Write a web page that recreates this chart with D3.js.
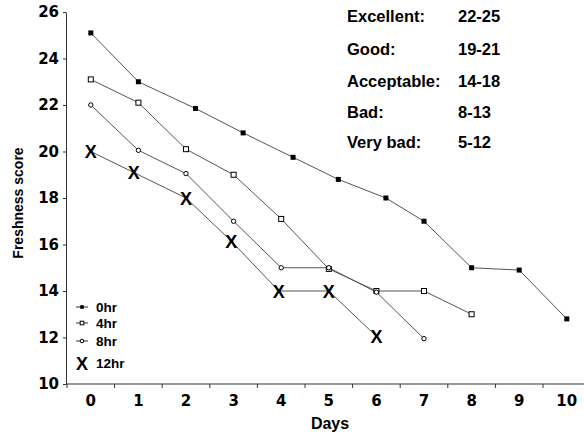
<!DOCTYPE html>
<html>
<head>
<meta charset="utf-8">
<script src="https://cdn.jsdelivr.net/npm/d3@7"></script>
<style>
  body { margin: 0; background: #fff; }
  svg { display: block; }
  text { font-family: "Liberation Sans", Arial, sans-serif; font-weight: bold; fill: #000; }
</style>
</head>
<body>
<svg id="chart"></svg>
<script>
const WIDTH = 584;
const HEIGHT = 437;

// storage time series (days, freshness score)
const seriesNames = ["0hr", "4hr", "8hr", "12hr"];
const days0 = [0, 1, 2.2, 3.2, 4.25, 5.2, 6.2, 7, 8, 9, 10];
const score0 = [25.1, 23.0, 21.85, 20.8, 19.75, 18.8, 18.0, 17.0, 15.0, 14.9, 12.8];
const days4 = [0, 1, 2, 3, 4, 5, 6, 7, 8];
const score4 = [23.1, 22.1, 20.1, 19.0, 17.1, 14.95, 14.0, 14.0, 13.0];
const days8 = [0, 1, 2, 3, 4, 5, 6, 7];
const score8 = [22.0, 20.05, 19.05, 17.0, 15.0, 15.0, 13.95, 11.95];
const days12 = [0, 0.9, 2, 2.95, 3.95, 5, 6];
const score12 = [20.0, 19.1, 18.0, 16.15, 14.0, 14.0, 12.05];

const xTicks = [0, 1, 2, 3, 4, 5, 6, 7, 8, 9, 10];
const yTicks = [10, 12, 14, 16, 18, 20, 22, 24, 26];

const gradeNames = ["Excellent:", "Good:", "Acceptable:", "Bad:", "Very bad:"];
const gradeRanges = ["22-25", "19-21", "14-18", "8-13", "5-12"];

const svg = d3.select("#chart").attr("width", WIDTH).attr("height", HEIGHT);

const x = d3.scaleLinear([-0.5, 10.5], [67, 590.6]);
const y = d3.scaleLinear([10, 26], [384, 12]);

// axes
const yAxis = svg.append("g")
    .attr("transform", "translate(66,0)")
    .call(d3.axisLeft(y).tickValues(yTicks).tickSize(3).tickSizeOuter(0));
yAxis.select(".domain").attr("stroke", "#333");
yAxis.selectAll(".tick line").attr("stroke", "#333");
yAxis.selectAll(".tick text")
    .attr("x", -7)
    .style("font-family", "'DejaVu Sans', sans-serif")
    .style("font-size", "15px")
    .style("font-weight", "bold")
    .attr("fill", "#000");

const bounds = d3.range(-0.5, 11, 1);
const xAxis = svg.append("g").attr("transform", "translate(0,384)");
xAxis.append("line")
    .attr("x1", 66).attr("x2", WIDTH).attr("y1", 0).attr("y2", 0)
    .attr("stroke", "#333");
xAxis.selectAll("line.tk").data(bounds).join("line")
    .attr("class", "tk")
    .attr("x1", d => x(d)).attr("x2", d => x(d))
    .attr("y1", 0).attr("y2", 4)
    .attr("stroke", "#333");
xAxis.selectAll("text").data(xTicks).join("text")
    .attr("x", d => x(d)).attr("y", 22)
    .attr("text-anchor", "middle")
    .style("font-family", "'DejaVu Sans', sans-serif")
    .style("font-size", "15px")
    .text(d => d);

svg.append("text")
    .attr("x", 330).attr("y", 429)
    .attr("text-anchor", "middle")
    .style("font-size", "16px")
    .text("Days");

svg.append("text")
    .attr("transform", "translate(23,203) rotate(-90)")
    .attr("text-anchor", "middle")
    .style("font-size", "14px")
    .text("Freshness score");

// series
const line = d3.line().x(d => x(d[0])).y(d => y(d[1]));
const series = [
    d3.zip(days0, score0),
    d3.zip(days4, score4),
    d3.zip(days8, score8),
    d3.zip(days12, score12)
];

series.forEach(pts => {
    svg.append("path")
        .attr("d", line(pts))
        .attr("fill", "none")
        .attr("stroke", "#555")
        .attr("stroke-width", 1);
});

function drawMarker(g, kind, cx, cy, s) {
    if (kind === 0) {
        g.append("rect").attr("x", cx - s / 2).attr("y", cy - s / 2)
            .attr("width", s).attr("height", s).attr("fill", "#000");
    } else if (kind === 1) {
        g.append("rect").attr("x", cx - s / 2).attr("y", cy - s / 2)
            .attr("width", s).attr("height", s)
            .attr("fill", "#fff").attr("stroke", "#000").attr("stroke-width", 1);
    } else if (kind === 2) {
        g.append("circle").attr("cx", cx).attr("cy", cy).attr("r", s / 2)
            .attr("fill", "#fff").attr("stroke", "#000").attr("stroke-width", 1);
    } else {
        g.append("text").attr("x", cx).attr("y", cy + 6.5)
            .attr("text-anchor", "middle")
            .style("font-size", "18px")
            .text("X");
    }
}

const marks = svg.append("g");
series.forEach((pts, i) => {
    pts.forEach(p => drawMarker(marks, i, x(p[0]), y(p[1]), i === 2 ? 4.4 : 5));
});

// legend
const legendY = [307, 323, 341, 363];
const legend = svg.append("g");
seriesNames.forEach((name, i) => {
    if (i < 3) {
        legend.append("line")
            .attr("x1", 76).attr("x2", 88)
            .attr("y1", legendY[i]).attr("y2", legendY[i])
            .attr("stroke", "#333");
    }
    drawMarker(legend, i, 82, legendY[i], 3.6);
    legend.append("text")
        .attr("x", 96).attr("y", legendY[i] + 5)
        .style("font-size", "13.5px")
        .text(name);
});

// grading table
const gradeY = [22, 55, 87, 118, 148];
const table = svg.append("g");
gradeNames.forEach((name, i) => {
    table.append("text").attr("x", 347).attr("y", gradeY[i])
        .style("font-size", "16.5px").text(name);
    table.append("text").attr("x", 458).attr("y", gradeY[i])
        .style("font-size", "16.5px").text(gradeRanges[i]);
});
</script>
</body>
</html>
